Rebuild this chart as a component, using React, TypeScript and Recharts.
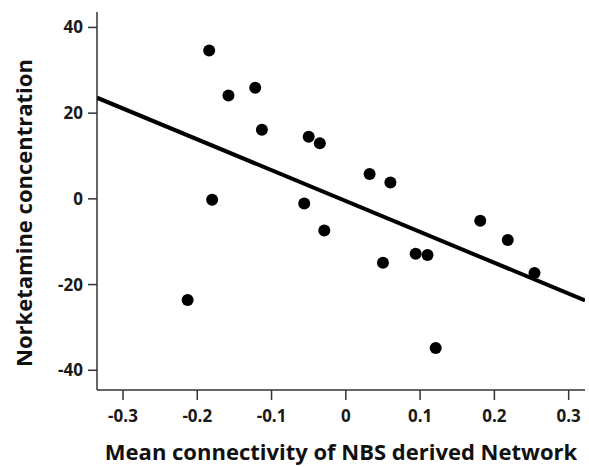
import React from "react";
import { ScatterChart, Scatter, XAxis, YAxis, Label } from "recharts";

const connectivity = [-0.184, -0.158, -0.122, -0.113, -0.18, -0.05, -0.035, 0.032, 0.06, -0.056, -0.029, 0.181, 0.218, 0.05, 0.094, 0.11, 0.254, 0.121, -0.213];
const norketamine = [34.6, 24.1, 25.9, 16.1, -0.2, 14.5, 13.0, 5.8, 3.8, -1.1, -7.4, -5.1, -9.6, -14.9, -12.8, -13.1, -17.3, -34.8, -23.6];

const fitX = [-0.335, 0.322];
const fitY = [23.6, -23.7];

const xTicks = [-0.3, -0.2, -0.1, 0, 0.1, 0.2, 0.3];
const yTicks = [-40, -20, 0, 20, 40];

const points = connectivity.map((x, i) => ({ x, y: norketamine[i] }));
const fitLine = fitX.map((x, i) => ({ x, y: fitY[i] }));

const font = "'Open Sans', 'DejaVu Sans', sans-serif";
const tickStyle = { fontFamily: font, fontWeight: 700, fontSize: 17, fill: "#1a1a1a" };
const titleStyle = { fontFamily: font, fontWeight: 700, fontSize: 22, fill: "#111" };

const Dot = (props: any) => <circle cx={props.cx} cy={props.cy} r={6} fill="#000" />;

const YTitle = (props: any) => {
  const vb = props.viewBox;
  const cx = 23;
  const cy = vb.y + vb.height / 2 + 12;
  return (
    <text
      x={cx}
      y={cy}
      transform={`rotate(-90, ${cx}, ${cy})`}
      textAnchor="middle"
      dominantBaseline="central"
      style={titleStyle}
    >
      Norketamine concentration
    </text>
  );
};

export default function App() {
  return (
    <div style={{ position: "absolute", left: 0, top: 0, background: "#fff" }}>
      <ScatterChart width={589} height={467} margin={{ top: 12, right: 4, left: 0, bottom: 0 }}>
        <XAxis
          type="number"
          dataKey="x"
          domain={[-0.335, 0.322]}
          ticks={xTicks}
          allowDataOverflow
          tickFormatter={(v: number) => (v === 0 ? "0" : v.toFixed(1))}
          height={77}
          tick={tickStyle}
          tickSize={10}
          tickMargin={10}
          stroke="#333"
          strokeWidth={1.5}
        >
          <Label
            value="Mean connectivity of NBS derived Network"
            position="insideBottom"
            offset={7}
            style={titleStyle}
          />
        </XAxis>
        <YAxis
          type="number"
          dataKey="y"
          domain={[-44.6, 43.6]}
          ticks={yTicks}
          allowDataOverflow
          width={97}
          tick={tickStyle}
          tickSize={9}
          tickMargin={5}
          stroke="#333"
          strokeWidth={1.5}
        >
          <Label content={YTitle} />
        </YAxis>
        <Scatter data={fitLine} line={{ stroke: "#000", strokeWidth: 4 }} shape={() => <g />} isAnimationActive={false} />
        <Scatter data={points} shape={Dot} isAnimationActive={false} />
      </ScatterChart>
    </div>
  );
}
